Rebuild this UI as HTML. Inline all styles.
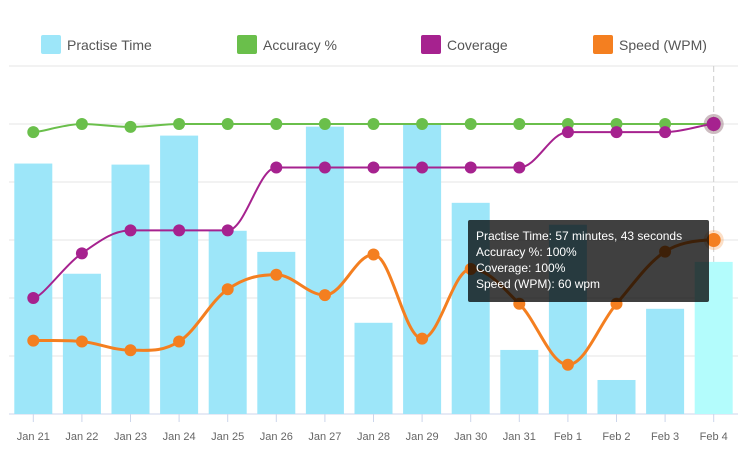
<!DOCTYPE html>
<html><head><meta charset="utf-8"><style>
body{margin:0;background:#fff;font-family:"Liberation Sans",sans-serif;}
svg{display:block}
</style></head><body>
<svg id="c" width="745" height="457"></svg>
<script>
const categories=["Jan 21","Jan 22","Jan 23","Jan 24","Jan 25","Jan 26","Jan 27","Jan 28","Jan 29","Jan 30","Jan 31","Feb 1","Feb 2","Feb 3","Feb 4"];
const practiseMinutes=[95,53.2,94.6,105.6,69.5,61.5,109,34.6,109.8,80.1,24.3,71.8,12.9,39.9,57.7];
const accuracy=[97.2,100,99,100,100,100,100,100,100,100,100,100,100,100,100];
const coverage=[40,55.4,63.3,63.3,63.3,85,85,85,85,85,85,97.2,97.2,97.2,100];
const speed=[25.3,25,22,25,43,48,41,55,26,50,38,17,38,56,60];
const yTicks=[0,20,40,60,80,100,120];
const legendItems=[["Practise Time","#9de6f9"],["Accuracy %","#6abf4b"],["Coverage","#a6228f"],["Speed (WPM)","#f47f20"]];

const NS="http://www.w3.org/2000/svg";
const svg=document.getElementById('c');
const L=9,R=738,T=66,B=414,barMax=132,lineMax=120;
const step=(R-L)/categories.length;
const xS=i=>L+step/2+i*step;
const yL=v=>B-v/lineMax*(B-T);
const yB=v=>B-v/barMax*(B-T);
function el(t,a,p){const e=document.createElementNS(NS,t);for(const k in a)e.setAttribute(k,a[k]);(p||svg).appendChild(e);return e;}

// grid
yTicks.forEach(v=>{const g=el('line',{x1:L,x2:R,y1:yL(v),y2:yL(v),stroke:v===0?'#ccd6eb':'#e6e6e6','stroke-width':1});

});
// hover guide
const hl=el('line',{x1:xS(14),x2:xS(14),y1:T,y2:B,stroke:'#ccc','stroke-dasharray':'6,4'});


// ticks + labels
categories.forEach((c,i)=>{
 const tk=el('line',{x1:xS(i),x2:xS(i),y1:B,y2:B+8,stroke:'#ccd6eb'});
 
 
 const t=el('text',{x:xS(i),y:440,'text-anchor':'middle','font-size':11,fill:'#666'});t.textContent=c;
 
 
});
// bars
practiseMinutes.forEach((v,i)=>{
 const b=el('rect',{x:xS(i)-19,y:yB(v),width:38,height:B-yB(v),fill:i===14?'#b3fcfc':'#9de6f9'});
 
 
});
function spline(vals){
 const p=vals.map((v,i)=>[xS(i),yL(v)]);let d=`M${p[0][0]},${p[0][1]}`;
 for(let i=0;i<p.length-1;i++){
  const p0=p[i-1]||p[i],p1=p[i],p2=p[i+1],p3=p[i+2]||p2;
  const s=0.18;
  let c1=[p1[0]+(p2[0]-p0[0])*s,p1[1]+(p2[1]-p0[1])*s];
  let c2=[p2[0]-(p3[0]-p1[0])*s,p2[1]-(p3[1]-p1[1])*s];
  // flat at local extrema
  if((p1[1]-p0[1])*(p2[1]-p1[1])<=0)c1[1]=p1[1];
  if((p2[1]-p1[1])*(p3[1]-p2[1])<=0)c2[1]=p2[1];
  d+=` C${c1[0]},${c1[1]} ${c2[0]},${c2[1]} ${p2[0]},${p2[1]}`;
 }return d;}
function series(vals,color,w,name){
 const pth=el('path',{d:spline(vals),fill:'none',stroke:color,'stroke-width':w});
 
 
 vals.forEach((v,i)=>{
  if(i===14){const h=el('circle',{cx:xS(i),cy:yL(v),r:10,fill:color,opacity:0.25});
   
   }
  const c=el('circle',{cx:xS(i),cy:yL(v),r:i===14?7:6,fill:color});
  
  
 });}
series(accuracy,'#6abf4b',2,'accuracy');
series(coverage,'#a6228f',2,'coverage');
series(speed,'#f47f20',3,'speed');
// legend
const lx=[41,237,421,593];
legendItems.forEach((it,i)=>{
 const r=el('rect',{x:lx[i],y:35,width:20,height:19,fill:it[1],rx:2});
 
 
 const t=el('text',{x:lx[i]+26,y:50,'font-size':14,fill:'#555'});t.textContent=it[0];
 
 
});
// tooltip
const tg=el('g',{});


el('rect',{x:468,y:220,width:241,height:82,rx:2,fill:'rgba(0,0,0,0.75)'},tg);
["Practise Time: 57 minutes, 43 seconds","Accuracy %: 100%","Coverage: 100%","Speed (WPM): 60 wpm"].forEach((s,i)=>{
 const t=el('text',{x:476,y:240+i*16,'font-size':12,fill:'#fff'},tg);t.textContent=s;
 
 
});
</script>
</body></html>
